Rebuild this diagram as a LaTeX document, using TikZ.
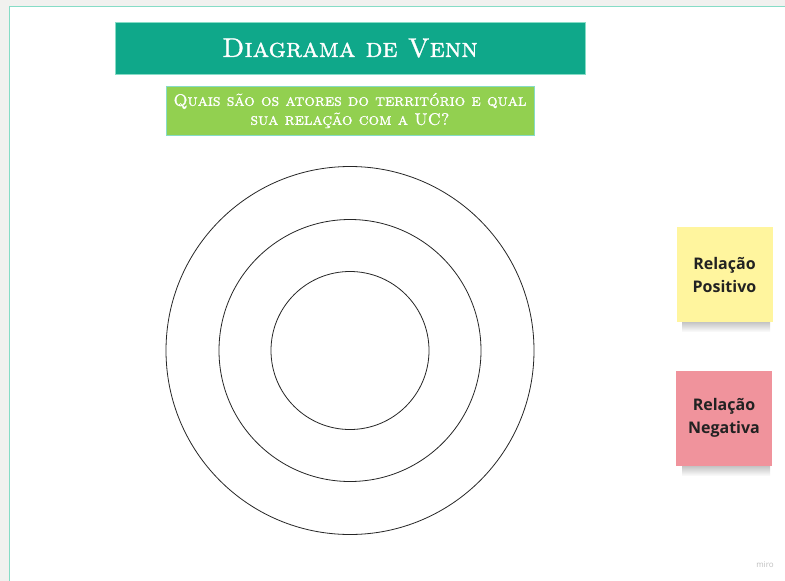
\documentclass[tikz,border=0pt]{standalone}
\usepackage{fontspec}
\newfontfamily\stickyfont{Open Sans}
\newfontfamily\headfont[FakeBold=1.2, SmallCapsFont={Latin Modern Roman Caps}, SmallCapsFeatures={FakeBold=1.2}]{Latin Modern Roman}
\usetikzlibrary{calc}
\definecolor{titleteal}{HTML}{0FA88A}
\definecolor{subgreen}{HTML}{92D050}
\definecolor{frameteal}{HTML}{86DCC6}
\definecolor{stickyyellow}{HTML}{FFF59E}
\definecolor{stickypink}{HTML}{F0939C}
\definecolor{bgray}{HTML}{F1F1EF}
\definecolor{stickytext}{HTML}{222222}
\tikzset{
  titlebox/.style={fill=titleteal, draw=frameteal, line width=0.8pt, minimum width=470pt, minimum height=52pt, inner sep=0pt, text=white, font=\headfont\fontsize{27}{30}\selectfont\scshape},
  subbox/.style={fill=subgreen, draw=frameteal, line width=0.8pt, minimum width=368pt, minimum height=49pt, inner sep=0pt, text=white, align=center, font=\headfont\fontsize{16.6}{19}\selectfont\scshape},
  ring/.style={draw=black!85, line width=0.8pt, fill=none},
  sticky/.style={minimum width=96pt, minimum height=95pt, inner sep=0pt, align=center, text=stickytext, font=\stickyfont\bfseries\fontsize{16}{23}\selectfont},
}
\begin{document}
\begin{tikzpicture}[x=1pt,y=-1pt]
\useasboundingbox (0,0) rectangle (785,581);
\fill[bgray] (0,0) rectangle (785,581);
\fill[white] (9.5,6.5) rectangle (785,581);
\draw[frameteal, line width=1.5pt] (9.5,590) -- (9.5,6.5) -- (790,6.5);
% title
\node[titlebox] (title) at (350,48) {Diagrama de Venn};
\node[subbox] (sub) at (350,110.5) {Quais são os atores do território e qual\\ sua relação com a UC?};
% rings
\node[ring, circle, minimum size=368pt, inner sep=0pt] (outer) at (350,350.5) {};
\node[ring, circle, minimum size=262pt, inner sep=0pt] (middle) at (350,350.5) {};
\node[ring, circle, minimum size=158pt, inner sep=0pt] (inner) at (350,350.5) {};
% shadows
\shade[top color=black!50, bottom color=white, opacity=0.5] (682,321) rectangle (770,332);
\shade[top color=black!50, bottom color=white, opacity=0.5] (682,465) rectangle (770,476);
% stickies
\node[sticky, fill=stickyyellow] (pos) at (724.5,274.5) {Relação\\Positivo};
\node[sticky, fill=stickypink] (neg) at (724,418) {Relação\\Negativa};
\node[text=black!25, font=\stickyfont\fontsize{8}{9}\selectfont] (miro) at (765,565) {miro};
\end{tikzpicture}
\end{document}
